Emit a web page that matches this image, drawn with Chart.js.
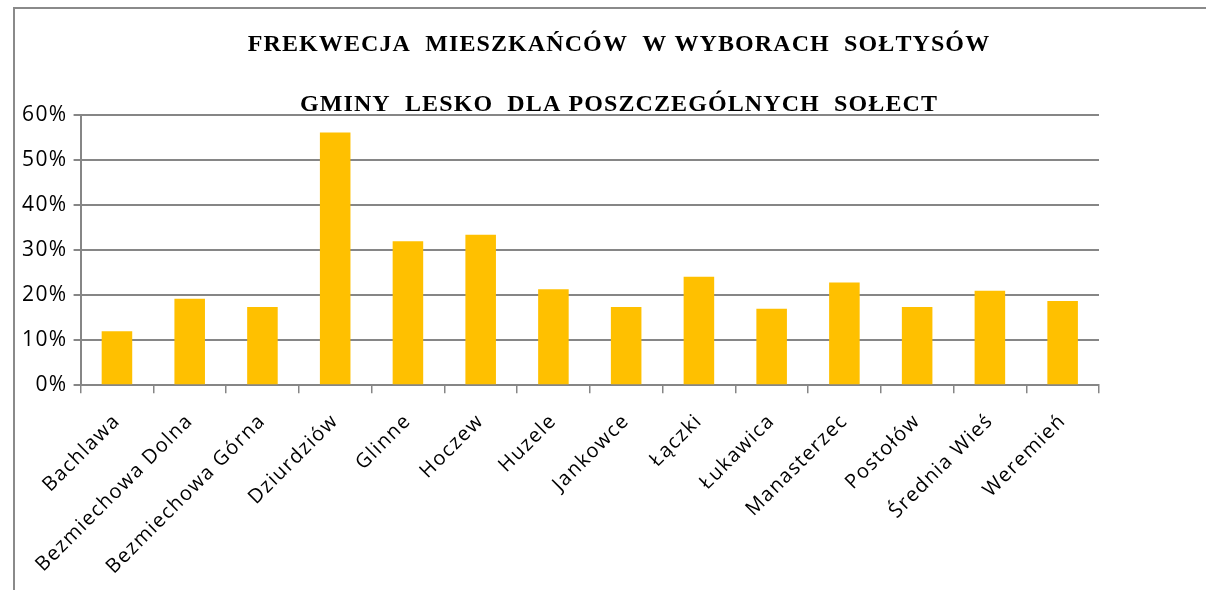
<!DOCTYPE html>
<html>
<head>
<meta charset="utf-8">
<script src="https://cdn.jsdelivr.net/npm/chart.js@4"></script>
<style>
  html, body { margin: 0; padding: 0; background: #fff; }
  #wrap { position: relative; width: 1206px; height: 590px; }
  #ramka {
    position: absolute; left: 13px; top: 7px; right: 0; bottom: 0;
    border-left: 2px solid #8a8a8a; border-top: 2px solid #8a8a8a;
    pointer-events: none;
  }
  canvas { position: absolute; left: 0; top: 0; }
</style>
</head>
<body>
<div id="wrap">
  <canvas id="wykres" width="1206" height="590"></canvas>
  <div id="ramka"></div>
</div>
<script>
const solectwa = ["Bachlawa", "Bezmiechowa Dolna", "Bezmiechowa Górna", "Dziurdziów", "Glinne",
  "Hoczew", "Huzele", "Jankowce", "Łączki", "Łukawica", "Manasterzec", "Postołów",
  "Średnia Wieś", "Weremień"];
const frekwencja = [12.0, 19.2, 17.4, 56.1, 32.0, 33.4, 21.3, 17.4, 24.1, 17.0, 22.8, 17.4, 21.0, 18.7];
const tytul = ["FREKWECJA  MIESZKAŃCÓW  W WYBORACH  SOŁTYSÓW", "GMINY  LESKO  DLA POSZCZEGÓLNYCH  SOŁECT"];
const skalaY = [0, 10, 20, 30, 40, 50, 60];

const szary = "#868686";
const ctx = document.getElementById("wykres").getContext("2d");

// odstepy miedzy literami jak w oryginale (Excel rozciaga tekst)
const odstepy = {
  id: "odstepy",
  beforeUpdate(chart) { chart.ctx.letterSpacing = "1.4px"; },
  beforeDraw(chart) { chart.ctx.letterSpacing = "1.4px"; }
};

// tytul w dwoch liniach, wysrodkowany na calej ramce
const tytulPlugin = {
  id: "tytulPlugin",
  afterDraw(chart) {
    const c = chart.ctx;
    c.save();
    c.letterSpacing = "1.1px";
    c.font = "bold 24px 'Liberation Serif'";
    c.fillStyle = "#000";
    c.textAlign = "center";
    c.textBaseline = "middle";
    c.fillText(tytul[0], 619, 45);
    c.fillText(tytul[1], 619, 105);
    c.restore();
  }
};

new Chart(ctx, {
  type: "bar",
  data: {
    labels: solectwa,
    datasets: [{
      data: frekwencja,
      backgroundColor: "#FFC000",
      borderWidth: 0,
      barPercentage: 0.84,
      categoryPercentage: 0.5
    }]
  },
  plugins: [odstepy, tytulPlugin],
  options: {
    responsive: false,
    animation: false,
    layout: { padding: { left: 16, right: 107, top: 115, bottom: -5 } },
    plugins: {
      legend: { display: false },
      tooltip: { enabled: false },
      title: { display: false }
    },
    scales: {
      x: {
        grid: { drawOnChartArea: false, drawTicks: true, tickLength: 8, color: szary, lineWidth: 1.5 },
        border: { color: szary, width: 2 },
        ticks: {
          color: "#000",
          font: { family: "Open Sans", size: 20 },
          maxRotation: 45,
          minRotation: 45,
          padding: 16,
          autoSkip: false
        }
      },
      y: {
        min: 0,
        max: 60,
        afterBuildTicks: (skala) => { skala.ticks = skalaY.map(v => ({ value: v })); },
        grid: { color: szary, lineWidth: 2, tickLength: 7 },
        border: { color: szary, width: 2 },
        ticks: {
          color: "#000",
          font: { family: "Open Sans", size: 21 },
          padding: 6,
          callback: (v) => v + "%"
        }
      }
    }
  }
});
</script>
</body>
</html>
